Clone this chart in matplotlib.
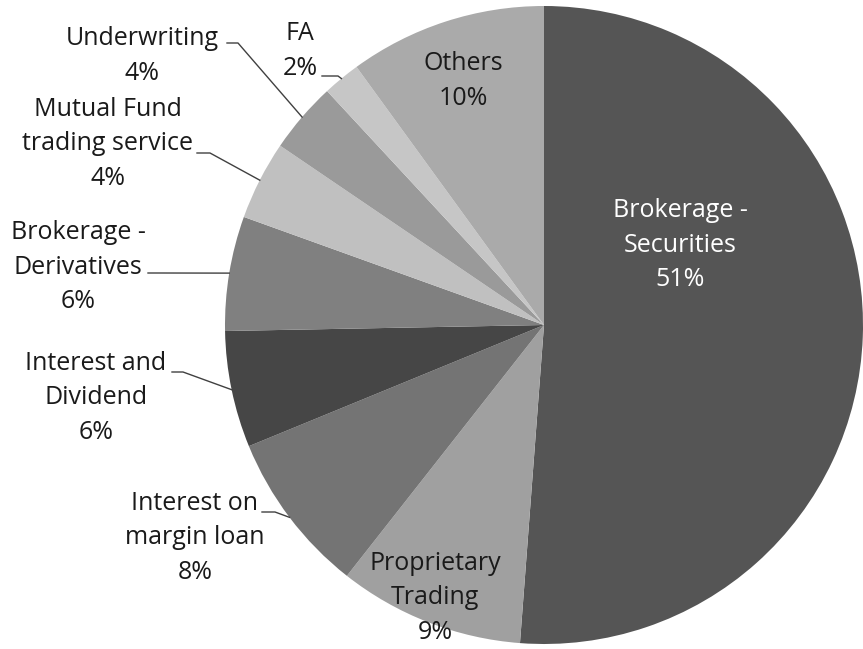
import numpy as np
import matplotlib.pyplot as plt

# Revenue breakdown (share, %)
labels = ['Brokerage -\nSecurities', 'Proprietary\nTrading', 'Interest on\nmargin loan',
          'Interest and\nDividend', 'Brokerage -\nDerivatives', 'Mutual Fund\ntrading service',
          'Underwriting', 'FA', 'Others']
shares = [51.2, 9.4, 8.2, 5.9, 5.8, 4.0, 3.6, 1.9, 10.0]
colors = ['#555555', '#a0a0a0', '#747474', '#464646', '#808080', '#c0c0c0',
          '#9a9a9a', '#c6c6c6', '#aaaaaa']

W, H = 863, 649
CX, CY, R = 544, 325, 319


def px(x, y):
    # pixel position -> data coords (pie radius = 1)
    return (x - CX) / R, (CY - y) / R


plt.rcParams['font.family'] = ['Open Sans', 'DejaVu Sans']
fig = plt.figure(figsize=(W / 100, H / 100), dpi=100)
ax = fig.add_axes([0, 0, 1, 1])

wedges, _ = ax.pie(shares, colors=colors, startangle=90, counterclock=False,
                   radius=1, center=(0, 0), wedgeprops={'linewidth': 0},
                   frame=True)
ax.set_xlim(-CX / R, (W - CX) / R)
ax.set_ylim((CY - H) / R, CY / R)
ax.set_aspect('auto')
ax.axis('off')

# label centre (px), leader start (px), leader elbow (px) or None
layout = {
    0: ((680, 245), None, None),
    1: ((435, 598), None, None),
    2: ((195, 538), (262, 512), (275, 512)),
    3: ((96, 398), (172, 372), (183, 372)),
    4: ((78, 267), (148, 273), (160, 273)),
    5: ((108, 144), (197, 153), (210, 153)),
    6: ((142, 56), (227, 43), (238, 43)),
    7: ((300, 51), (322, 76), (338, 76)),
    8: ((463, 81), None, None),
}

for i, w in enumerate(wedges):
    pct = '%d%%' % round(shares[i])
    (tx, ty), start, elbow = layout[i]
    col = 'white' if i == 0 else '#1a1a1a'
    ax.text(*px(tx, ty), labels[i] + '\n' + pct, ha='center', va='center',
            fontsize=18, color=col, linespacing=1.5)
    if start is not None:
        mid = np.deg2rad((w.theta1 + w.theta2) / 2)
        ex, ey = np.cos(mid), np.sin(mid)
        sx, sy = px(*start)
        bx, by = px(*elbow)
        ax.plot([sx, bx, ex], [sy, by, ey], color='#404040', lw=1)

fig.savefig('out.png', dpi=100)
